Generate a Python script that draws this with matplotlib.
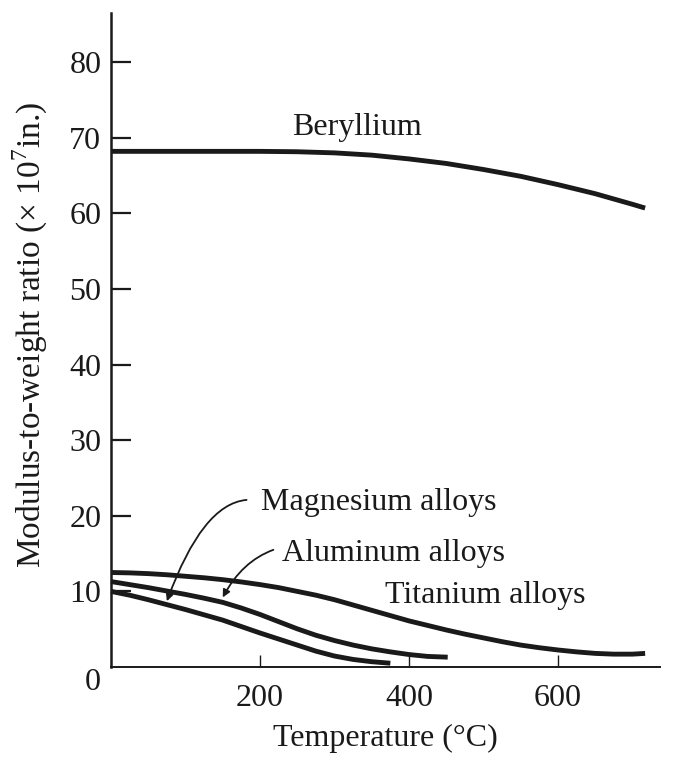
import matplotlib
matplotlib.use("Agg")
import matplotlib.pyplot as plt

# Modulus-to-weight ratio (x 10^7 in.) versus temperature (deg C)
beryllium_t = [0, 50, 100, 150, 200, 250, 300, 325, 350, 375, 400, 425, 450, 475,
               500, 525, 550, 575, 600, 625, 650, 675, 700, 717]
beryllium_v = [68.2, 68.2, 68.2, 68.2, 68.2, 68.15, 68.0, 67.85, 67.7, 67.45, 67.2, 66.9,
               66.6, 66.2, 65.8, 65.35, 64.9, 64.35, 63.8, 63.2, 62.6, 61.9, 61.2, 60.7]

titanium_t = [0, 25, 50, 75, 100, 125, 150, 175, 200, 225, 250, 275, 300, 325, 350, 375,
              400, 425, 450, 475, 500, 525, 550, 575, 600, 625, 650, 675, 700, 717]
titanium_v = [12.5, 12.45, 12.35, 12.2, 12.0, 11.8, 11.55, 11.25, 10.9, 10.5, 10.0, 9.5,
              8.9, 8.2, 7.5, 6.8, 6.1, 5.5, 4.9, 4.35, 3.85, 3.35, 2.9, 2.55, 2.25, 2.0,
              1.8, 1.7, 1.7, 1.8]

aluminum_t = [0, 25, 50, 75, 100, 125, 150, 175, 200, 225, 250, 275, 300, 325, 350, 375,
              400, 425, 452]
aluminum_v = [11.3, 10.9, 10.5, 10.05, 9.6, 9.1, 8.55, 7.8, 6.95, 6.0, 5.05, 4.2, 3.5,
              2.9, 2.4, 2.0, 1.65, 1.4, 1.3]

magnesium_t = [0, 25, 50, 75, 100, 125, 150, 175, 200, 225, 250, 275, 300, 325, 350, 375]
magnesium_v = [10.0, 9.5, 8.9, 8.25, 7.6, 6.9, 6.2, 5.35, 4.5, 3.7, 2.9, 2.1, 1.45, 1.0,
               0.7, 0.5]

x_ticks = [200, 400, 600]
y_ticks = [10, 20, 30, 40, 50, 60, 70, 80]

plt.rcParams["font.family"] = ["Liberation Serif", "DejaVu Serif"]
plt.rcParams["mathtext.fontset"] = "custom"
plt.rcParams["mathtext.rm"] = "Liberation Serif"

ink = "#1a1a1a"
fs = 23

fig = plt.figure(figsize=(6.73, 7.65), dpi=100)
ax = fig.add_axes([111 / 673, 98 / 765, 549 / 673, 654 / 765])
ax.set_xlim(0, 737)
ax.set_ylim(0, 86.5)

for t, v in [(beryllium_t, beryllium_v), (titanium_t, titanium_v),
             (aluminum_t, aluminum_v), (magnesium_t, magnesium_v)]:
    ax.plot(t, v, color=ink, lw=3.5, solid_capstyle="butt", solid_joinstyle="round",
            clip_on=False)

for side in ("top", "right"):
    ax.spines[side].set_visible(False)
ax.spines["left"].set_linewidth(1.8)
ax.spines["bottom"].set_linewidth(1.4)
for side in ("left", "bottom"):
    ax.spines[side].set_color(ink)

ax.set_xticks(x_ticks)
ax.set_xticklabels([str(v) for v in x_ticks])
ax.set_yticks(y_ticks)
ax.set_yticklabels([str(v) for v in y_ticks])
ax.tick_params(axis="y", direction="in", length=14.5, width=1.6, pad=7,
               labelsize=fs, colors=ink)
ax.tick_params(axis="x", direction="in", length=8.5, width=1.0, pad=12,
               labelsize=fs, colors=ink)

ax.text(-14, -2.1, "0", ha="right", va="center", fontsize=fs, color=ink, clip_on=False)

fig.text(30 / 673, 1 - 335 / 765, r"Modulus-to-weight ratio ($\times$ 10$^{7}$in.)",
         rotation=90, ha="center", va="center", fontsize=24, color=ink)
fig.text(385 / 673, 1 - 738 / 765, "Temperature (°C)", ha="center", va="center",
         fontsize=fs, color=ink)

# curve labels
ax.text(243, 70.3, "Beryllium", ha="left", va="baseline", fontsize=fs, color=ink)
ax.text(202, 20.8, "Magnesium alloys", ha="left", va="baseline", fontsize=fs, color=ink)
ax.text(229, 14.05, "Aluminum alloys", ha="left", va="baseline", fontsize=fs, color=ink)
ax.text(368, 8.45, "Titanium alloys", ha="left", va="baseline", fontsize=fs, color=ink)

# leader arrows
ax.annotate("", xy=(75, 8.7), xytext=(182, 22.1),
            arrowprops=dict(arrowstyle="-|>", color=ink, lw=1.3, mutation_scale=11,
                            shrinkA=0, shrinkB=0,
                            connectionstyle="angle3,angleA=5,angleB=70"))
ax.annotate("", xy=(150, 9.2), xytext=(218, 15.5),
            arrowprops=dict(arrowstyle="-|>", color=ink, lw=1.3, mutation_scale=11,
                            shrinkA=0, shrinkB=0,
                            connectionstyle="angle3,angleA=20,angleB=62"))

fig.savefig("out.png", dpi=100, facecolor="white")
